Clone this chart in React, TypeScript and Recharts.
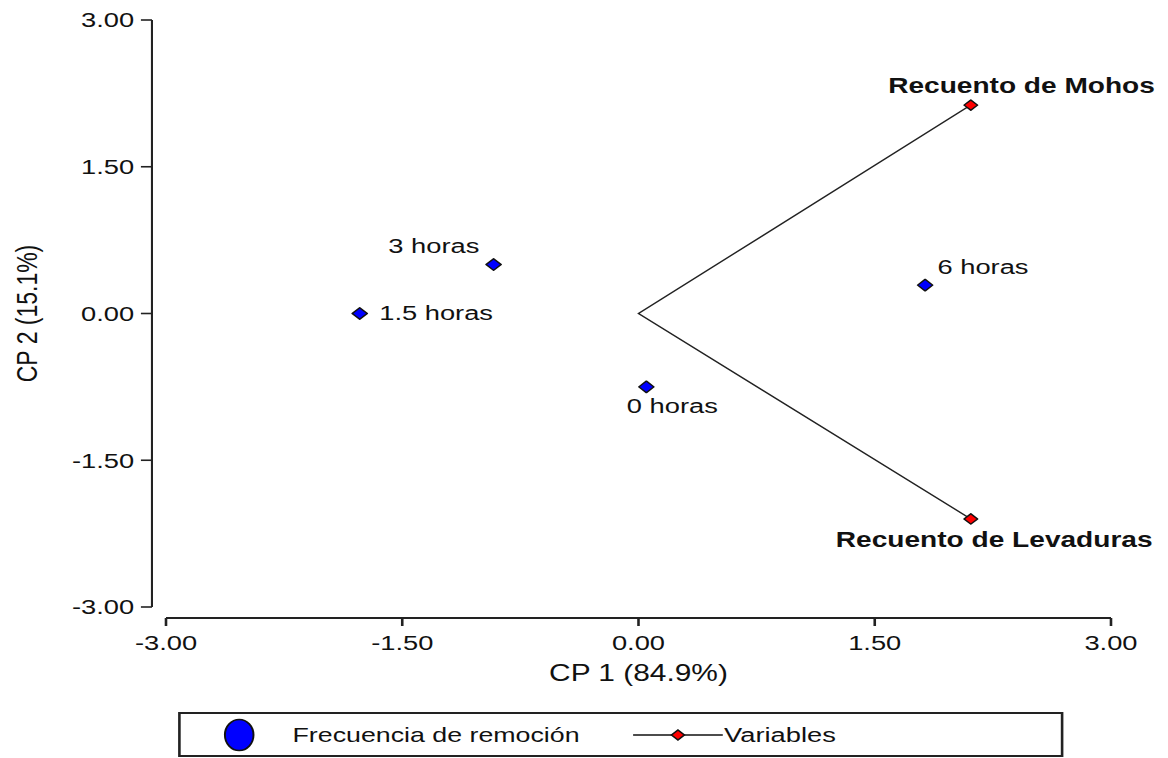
import React from "react";
import { ScatterChart, Scatter, XAxis, YAxis, Legend } from "recharts";

// the reference is horizontally stretched, so the chart is drawn narrower and scaled in x
const SCALE_X = 1.3;
const WIDTH = 1168 / SCALE_X;
const HEIGHT = 758;
const FONT = "'Liberation Sans', Arial, Helvetica, sans-serif";

// sample scores (Frecuencia de remoción)
const sampleNames = ["0 horas", "1.5 horas", "3 horas", "6 horas"];
const sampleCP1 = [0.05, -1.77, -0.92, 1.82];
const sampleCP2 = [-0.75, 0.0, 0.5, 0.29];

// variable vectors
const variableNames = ["Recuento de Mohos", "Recuento de Levaduras"];
const variableCP1 = [2.11, 2.11];
const variableCP2 = [2.13, -2.1];

const axisTicks = [-3, -1.5, 0, 1.5, 3];

const samples = sampleNames.map((name, i) => ({ name, x: sampleCP1[i], y: sampleCP2[i] }));
// vectors start at the origin: first variable -> origin -> second variable
const vectors = [
  { name: variableNames[0], x: variableCP1[0], y: variableCP2[0] },
  { name: "", x: 0, y: 0 },
  { name: variableNames[1], x: variableCP1[1], y: variableCP2[1] },
];

// label placement per point (dx, baseline dy, anchor) in chart units
const labelStyle: Record<string, { dx: number; dy: number; anchor: "start" | "middle" | "end" }> = {
  "0 horas": { dx: 20, dy: 26.5, anchor: "middle" },
  "1.5 horas": { dx: 15, dy: 6.5, anchor: "start" },
  "3 horas": { dx: -46, dy: -11.5, anchor: "middle" },
  "6 horas": { dx: 9.5, dy: -11, anchor: "start" },
  "Recuento de Mohos": { dx: 39, dy: -12.5, anchor: "middle" },
  "Recuento de Levaduras": { dx: 18, dy: 28, anchor: "middle" },
};

const SampleShape = (props: any) => {
  const { cx, cy, payload } = props;
  const s = labelStyle[payload.name];
  return (
    <g>
      <polygon
        points={`${cx - 5.8},${cy} ${cx},${cy - 5.8} ${cx + 5.8},${cy} ${cx},${cy + 5.8}`}
        fill="#0000ff"
        stroke="#111"
        strokeWidth={1.3}
        strokeLinejoin="round"
      />
      <text x={cx + s.dx} y={cy + s.dy} textAnchor={s.anchor} fontSize={21} fill="#111" fontFamily={FONT}>
        {payload.name}
      </text>
    </g>
  );
};

const VariableShape = (props: any) => {
  const { cx, cy, payload } = props;
  if (!payload.name) return <g />;
  const s = labelStyle[payload.name];
  return (
    <g>
      <polygon
        points={`${cx - 5.2},${cy} ${cx},${cy - 5.2} ${cx + 5.2},${cy} ${cx},${cy + 5.2}`}
        fill="#ff0000"
        stroke="#111"
        strokeWidth={1.3}
        strokeLinejoin="round"
      />
      <text
        x={cx + s.dx}
        y={cy + s.dy}
        textAnchor={s.anchor}
        fontSize={21.6}
        fontWeight="bold"
        fill="#111"
        fontFamily={FONT}
      >
        {payload.name}
      </text>
    </g>
  );
};

const LegendBox = (props: any) => {
  const items = props.payload || [];
  const w = 681.5;
  const h = 45;
  return (
    <div style={{ position: "relative", width: w, height: h, border: "2px solid #222", boxSizing: "border-box", background: "#fff" }}>
      <svg width={w} height={h} style={{ position: "absolute", left: -2, top: -2 }}>
        <ellipse cx={47} cy={23} rx={11} ry={15.5} fill="#0000ff" stroke="#111" strokeWidth={1.5} />
        <text x={88} y={30} fontSize={20.6} fill="#111" fontFamily={FONT}>
          {items[0]?.value}
        </text>
        <line x1={350} x2={419} y1={23} y2={23} stroke="#111" strokeWidth={1.5} />
        <polygon points="379.5,23 384.5,18 389.5,23 384.5,28" fill="#ff0000" stroke="#111" strokeWidth={1.3} />
        <text x={420} y={30} fontSize={21} fill="#111" fontFamily={FONT}>
          {items[1]?.value}
        </text>
      </svg>
    </div>
  );
};

export default function App() {
  return (
    <div style={{ position: "absolute", left: 0, top: 0, width: 1168, height: HEIGHT, overflow: "hidden", background: "#fff" }}>
      <div style={{ width: WIDTH, height: HEIGHT, transform: `scaleX(${SCALE_X})`, transformOrigin: "0 0" }}>
        <ScatterChart
          width={WIDTH}
          height={HEIGHT}
          margin={{ top: 20, right: WIDTH - 1111 / SCALE_X, bottom: 0, left: 0 }}
          style={{ fontFamily: FONT }}
        >
          <XAxis
            type="number"
            dataKey="x"
            domain={[-3, 3]}
            ticks={axisTicks}
            tickFormatter={(v: number) => v.toFixed(2)}
            height={151}
            tickSize={8}
            tickMargin={20}
            axisLine={{ stroke: "#222", strokeWidth: 2, transform: "translate(0,11)" }}
            tickLine={{ stroke: "#222", strokeWidth: 2, transform: "translate(0,11)" }}
            tick={{ fill: "#111", fontSize: 21, fontFamily: FONT }}
            label={{ value: "CP 1 (84.9%)", position: "insideTop", offset: 58, fill: "#111", fontSize: 23, fontFamily: FONT }}
          />
          <YAxis
            type="number"
            dataKey="y"
            domain={[-3, 3]}
            ticks={axisTicks}
            tickFormatter={(v: number) => v.toFixed(2)}
            width={166 / SCALE_X}
            tickSize={8.5}
            tickMargin={16}
            axisLine={{ stroke: "#222", strokeWidth: 1.6, transform: "translate(-10.8,0)" }}
            tickLine={{ stroke: "#222", strokeWidth: 1.6, transform: "translate(-10.8,0)" }}
            tick={{ fill: "#111", fontSize: 21, fontFamily: FONT }}
            label={{
              value: "CP 2 (15.1%)",
              angle: -90,
              position: "insideLeft",
              offset: 20.5,
              fill: "#111",
              fontSize: 23,
              fontFamily: FONT,
              style: { textAnchor: "middle" },
            }}
          />
          <Legend
            layout="horizontal"
            verticalAlign="middle"
            align="center"
            content={<LegendBox />}
            wrapperStyle={{ left: 178 / SCALE_X, top: 712, width: 681.5, height: 45 }}
          />
          <Scatter
            name="Frecuencia de remoción"
            data={samples}
            shape={<SampleShape />}
            isAnimationActive={false}
          />
          <Scatter
            name="Variables"
            data={vectors}
            line={{ stroke: "#222", strokeWidth: 1.3 }}
            shape={<VariableShape />}
            isAnimationActive={false}
          />
        </ScatterChart>
      </div>
    </div>
  );
}
